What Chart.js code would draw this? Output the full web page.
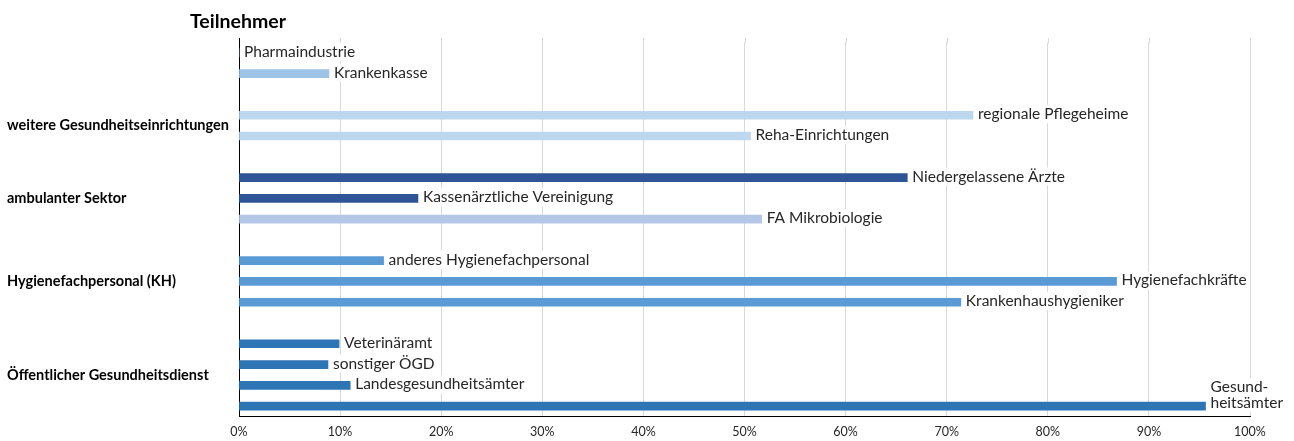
<!DOCTYPE html>
<html>
<head>
<meta charset="utf-8">
<script src="https://cdn.jsdelivr.net/npm/chart.js@4"></script>
<style>
  html, body { margin: 0; padding: 0; background: #fff; }
  #wrap { position: relative; width: 1294px; height: 441px; }
</style>
</head>
<body>
<div id="wrap"><canvas id="chart"></canvas></div>
<script>
// Zeilen von oben nach unten, '' = Leerzeile zwischen den Gruppen
const rowLabels = [
  'Pharmaindustrie', 'Krankenkasse', '',
  'regionale Pflegeheime', 'Reha-Einrichtungen', '',
  'Niedergelassene Ärzte', 'Kassenärztliche Vereinigung', 'FA Mikrobiologie', '',
  'anderes Hygienefachpersonal', 'Hygienefachkräfte', 'Krankenhaushygieniker', '',
  'Veterinäramt', 'sonstiger ÖGD', 'Landesgesundheitsämter', 'Gesund-\nheitsämter'
];
const values = [
  0, 8.9, null,
  72.6, 50.6, null,
  66.1, 17.7, 51.7, null,
  14.3, 86.8, 71.4, null,
  9.9, 8.8, 11.0, 95.6
];
const groupNames = [
  'weitere Gesundheitseinrichtungen',
  'ambulanter Sektor',
  'Hygienefachpersonal (KH)',
  'Öffentlicher Gesundheitsdienst'
];
const groupRows = [[3, 4], [6, 7, 8], [10, 11, 12], [14, 15, 16, 17]];
const xTicks = [0, 10, 20, 30, 40, 50, 60, 70, 80, 90, 100];

// Farben je Zeile
const barColors = [
  '#9dc3e6', '#9dc3e6', '#fff',
  '#bdd7ee', '#bdd7ee', '#fff',
  '#2f5597', '#2f5597', '#b4c7e7', '#fff',
  '#5b9bd5', '#5b9bd5', '#5b9bd5', '#fff',
  '#2e75b6', '#2e75b6', '#2e75b6', '#2e75b6'
];

const FONT = 'Lato, "Open Sans", sans-serif';
const GRID_TOP = 38;

const labelPlugin = {
  id: 'labels',
  beforeDatasetsDraw(chart) {
    // Gitterlinien ein Stück über den Plotbereich verlängern
    const ctx = chart.ctx;
    const xs = chart.scales.x;
    const top = chart.chartArea.top;
    ctx.save();
    ctx.lineWidth = 1;
    xTicks.forEach((t, i) => {
      const x = Math.round(xs.getPixelForValue(t)) + 0.5;
      ctx.strokeStyle = i === 0 ? '#000' : '#d9d9d9';
      ctx.beginPath();
      ctx.moveTo(x, GRID_TOP);
      ctx.lineTo(x, top + 1);
      ctx.stroke();
    });
    ctx.restore();
  },
  afterDraw(chart) {
    const ctx = chart.ctx;
    const meta = chart.getDatasetMeta(0);
    const yScale = chart.scales.y;
    ctx.save();

    // Beschriftung rechts neben den Balken
    ctx.font = '15.5px ' + FONT;
    ctx.textBaseline = 'middle';
    ctx.textAlign = 'left';
    meta.data.forEach((bar, i) => {
      const txt = rowLabels[i];
      if (!txt || values[i] === null) return;
      const lines = txt.split('\n');
      const lh = 16;
      const x = bar.x + 5;
      const yc = bar.y - (lines.length - 1) * lh / 2 - (lines.length > 1 ? 3 : 1);
      const w = Math.max(...lines.map(l => ctx.measureText(l).width));
      ctx.fillStyle = '#fff';
      ctx.fillRect(x - 2, yc - lines.length * lh / 2 - 1, w + 4, lines.length * lh + 2);
      ctx.fillStyle = '#262626';
      lines.forEach((l, k) => {
        ctx.fillText(l, x, yc - (lines.length - 1) * lh / 2 + k * lh);
      });
    });

    // Gruppennamen links
    ctx.font = 'bold 14.5px ' + FONT;
    ctx.fillStyle = '#000';
    groupNames.forEach((name, g) => {
      const rows = groupRows[g];
      const y = rows.reduce((s, r) => s + yScale.getPixelForValue(r), 0) / rows.length;
      ctx.fillText(name, 7, y);
    });

    // Titel
    ctx.font = 'bold 19.5px ' + FONT;
    ctx.fillText('Teilnehmer', 190, 21.5);
    ctx.restore();
  }
};

new Chart(document.getElementById('chart'), {
  type: 'bar',
  data: {
    labels: rowLabels,
    datasets: [{
      data: values,
      backgroundColor: barColors,
      barThickness: 8,
      borderWidth: 0
    }]
  },
  options: {
    indexAxis: 'y',
    responsive: true,
    maintainAspectRatio: false,
    animation: false,
    layout: { padding: { left: 239, top: 42.5, right: 44, bottom: 0 } },
    plugins: {
      legend: { display: false },
      tooltip: { enabled: false }
    },
    scales: {
      x: {
        min: 0,
        max: 100,
        afterBuildTicks: (s) => { s.ticks = xTicks.map(v => ({ value: v })); },
        afterFit: (s) => { s.height = 24.5; },
        grid: { color: '#d9d9d9', drawTicks: false },
        border: { color: '#000', width: 1 },
        ticks: {
          padding: 7.5,
          color: '#262626',
          font: { family: FONT, size: 12.5 },
          callback: (v) => v + '%'
        }
      },
      y: {
        grid: { display: false, drawTicks: false },
        border: { color: '#000', width: 1 },
        ticks: { display: false }
      }
    }
  },
  plugins: [labelPlugin]
});
</script>
</body>
</html>
